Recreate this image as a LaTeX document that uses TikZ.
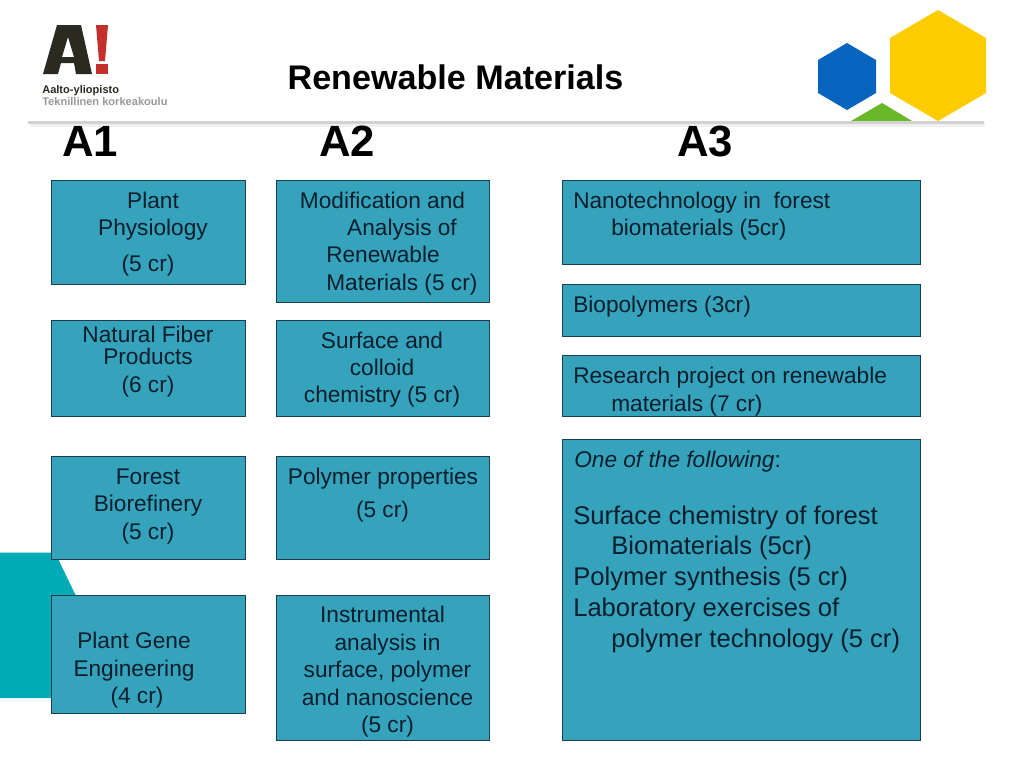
\documentclass[tikz,border=0pt]{standalone}
\usepackage{fontspec}
\setmainfont{Liberation Sans}
\definecolor{boxfill}{HTML}{36A3BD}
\definecolor{boxline}{HTML}{1D3C50}
\definecolor{tealbg}{HTML}{00ABB5}
\definecolor{boxtext}{HTML}{0A1E2C}
\definecolor{logodark}{HTML}{2B2A20}
\definecolor{logored}{HTML}{C4302B}
\definecolor{hexgreen}{HTML}{68B828}
\definecolor{hexblue}{HTML}{0564BE}
\definecolor{hexyellow}{HTML}{FFCC00}
\tikzset{
  box/.style={draw=boxline,line width=0.75pt,fill=boxfill,rectangle,inner sep=0pt,outer sep=0pt,anchor=north west},
  ctxt/.style={anchor=base,inner sep=0pt,text=boxtext,font=\fontsize{17}{20}\selectfont},
  ltxt/.style={anchor=base west,inner sep=0pt,text=boxtext,font=\fontsize{17}{20}\selectfont},
  bigtxt/.style={anchor=base west,inner sep=0pt,text=boxtext,font=\fontsize{19.2}{23}\selectfont},
  head/.style={anchor=base west,inner sep=0pt,font=\bfseries\fontsize{32.8}{38}\selectfont},
}
\newcommand{\bx}[5]{\node[box,minimum width=#4*0.75pt,minimum height=#5*0.75pt] (#1) at (#2,#3) {};}
\begin{document}
\begin{tikzpicture}[x=0.75pt,y=-0.75pt]
\useasboundingbox (0,0) rectangle (1024,768);
\fill[white] (0,0) rectangle (1024,768);
% background teal
\fill[tealbg] (0,552.5) -- (55,552.5) -- (76,596) -- (76,698) -- (0,698) -- cycle;
% hexagons
\fill[hexgreen] (851,121) -- (882,103) -- (912,121) -- cycle;
\fill[hexblue] (847,43) -- (876,60) -- (876,93) -- (847,110) -- (818,93) -- (818,60) -- cycle;
\fill[hexyellow] (938,10) -- (986,38) -- (986,93) -- (938,121) -- (890,93) -- (890,38) -- cycle;
% shadow rule
\fill[black!6] (30,123) rectangle (985,127);
\fill[black!18] (28,121) rectangle (984,124);
% logo
\fill[logodark,even odd rule] (57,25) -- (81,25) -- (92,74) -- (76,74) -- (74,63) -- (61,63) -- (58,74) -- (43,74) -- cycle
  (68,37) -- (62,57) -- (74,57) -- cycle;
\fill[logored] (96,25) -- (108,25) -- (105,61) -- (99,61) -- cycle;
\fill[logored] (96,64) rectangle (108,74);
\node[anchor=base west,inner sep=0pt,text=logodark,font=\bfseries\fontsize{8.3}{10}\selectfont] (logoa) at (42,93) {Aalto-yliopisto};
\node[anchor=base west,inner sep=0pt,text=black!40,font=\bfseries\fontsize{8.3}{10}\selectfont] (logob) at (42,105) {Teknillinen korkeakoulu};
% title
\node[anchor=base,inner sep=0pt,font=\bfseries\fontsize{25.6}{30}\selectfont] (title) at (455.5,89) {Renewable Materials};
\node[head] (a1) at (62,156) {A1};
\node[head] (a2) at (319,156) {A2};
\node[head] (a3) at (677,156) {A3};
% boxes A1
\bx{p1}{51}{180}{194}{104}
\bx{p2}{51}{320}{194}{96}
\bx{p3}{51}{456}{194}{103}
\bx{p4}{51}{595}{194}{118}
% boxes A2
\bx{m1}{276}{180}{213}{122}
\bx{m2}{276}{320}{213}{96}
\bx{m3}{276}{456}{213}{103}
\bx{m4}{276}{595}{213}{145}
% boxes A3
\bx{n1}{562}{180}{358}{84}
\bx{n2}{562}{284}{358}{52}
\bx{n3}{562}{355}{358}{61}
\bx{n4}{562}{439}{358}{301}
% A1 text
\node[ctxt] (t1) at (153,208) {Plant};
\node[ctxt] (t2) at (153,235) {Physiology};
\node[ctxt] (t3) at (148,271) {(5 cr)};
\node[ctxt] (t4) at (148,342) {Natural Fiber};
\node[ctxt] (t5) at (148,364) {Products};
\node[ctxt] (t6) at (148,392) {(6 cr)};
\node[ctxt] (t7) at (148,484) {Forest};
\node[ctxt] (t8) at (148,511) {Biorefinery};
\node[ctxt] (t9) at (148,539) {(5 cr)};
\node[ctxt] (t10) at (134,648) {Plant Gene};
\node[ctxt] (t11) at (134,676) {Engineering};
\node[ctxt] (t12) at (137,703) {(4 cr)};
% A2 text
\node[ctxt] (u1) at (382.5,208) {Modification and};
\node[ctxt] (u2) at (402,235) {Analysis of};
\node[ltxt] (u3) at (326,262) {Renewable};
\node[ltxt] (u4) at (326,290) {Materials (5 cr)};
\node[ctxt] (u5) at (382,348) {Surface and};
\node[ctxt] (u6) at (382,375) {colloid};
\node[ctxt] (u7) at (382,402) {chemistry (5 cr)};
\node[ctxt] (u8) at (383,484) {Polymer properties};
\node[ctxt] (u9) at (382.5,517) {(5 cr)};
\node[ctxt] (u10) at (382.5,622) {Instrumental};
\node[ctxt] (u11) at (387.5,650) {analysis in};
\node[ctxt] (u12) at (387.5,677) {surface, polymer};
\node[ctxt] (u13) at (387.5,705) {and nanoscience};
\node[ctxt] (u14) at (387.5,732) {(5 cr)};
% A3 text
\node[ltxt] (v1) at (573,208) {Nanotechnology in\ \ forest};
\node[ltxt] (v2) at (611,235) {biomaterials (5cr)};
\node[ltxt] (v3) at (573,312) {Biopolymers (3cr)};
\node[ltxt] (v4) at (573,383) {Research project on renewable};
\node[ltxt] (v5) at (611,411) {materials (7 cr)};
\node[ltxt] (v6) at (574,467) {\itshape One of the following\upshape:};
\node[bigtxt] (v7) at (573,524) {Surface chemistry of forest};
\node[bigtxt] (v8) at (611,554) {Biomaterials (5cr)};
\node[bigtxt] (v9) at (573,585) {Polymer synthesis (5 cr)};
\node[bigtxt] (v10) at (573,616) {Laboratory exercises of};
\node[bigtxt] (v11) at (611,647) {polymer technology (5 cr)};
\end{tikzpicture}
\end{document}
